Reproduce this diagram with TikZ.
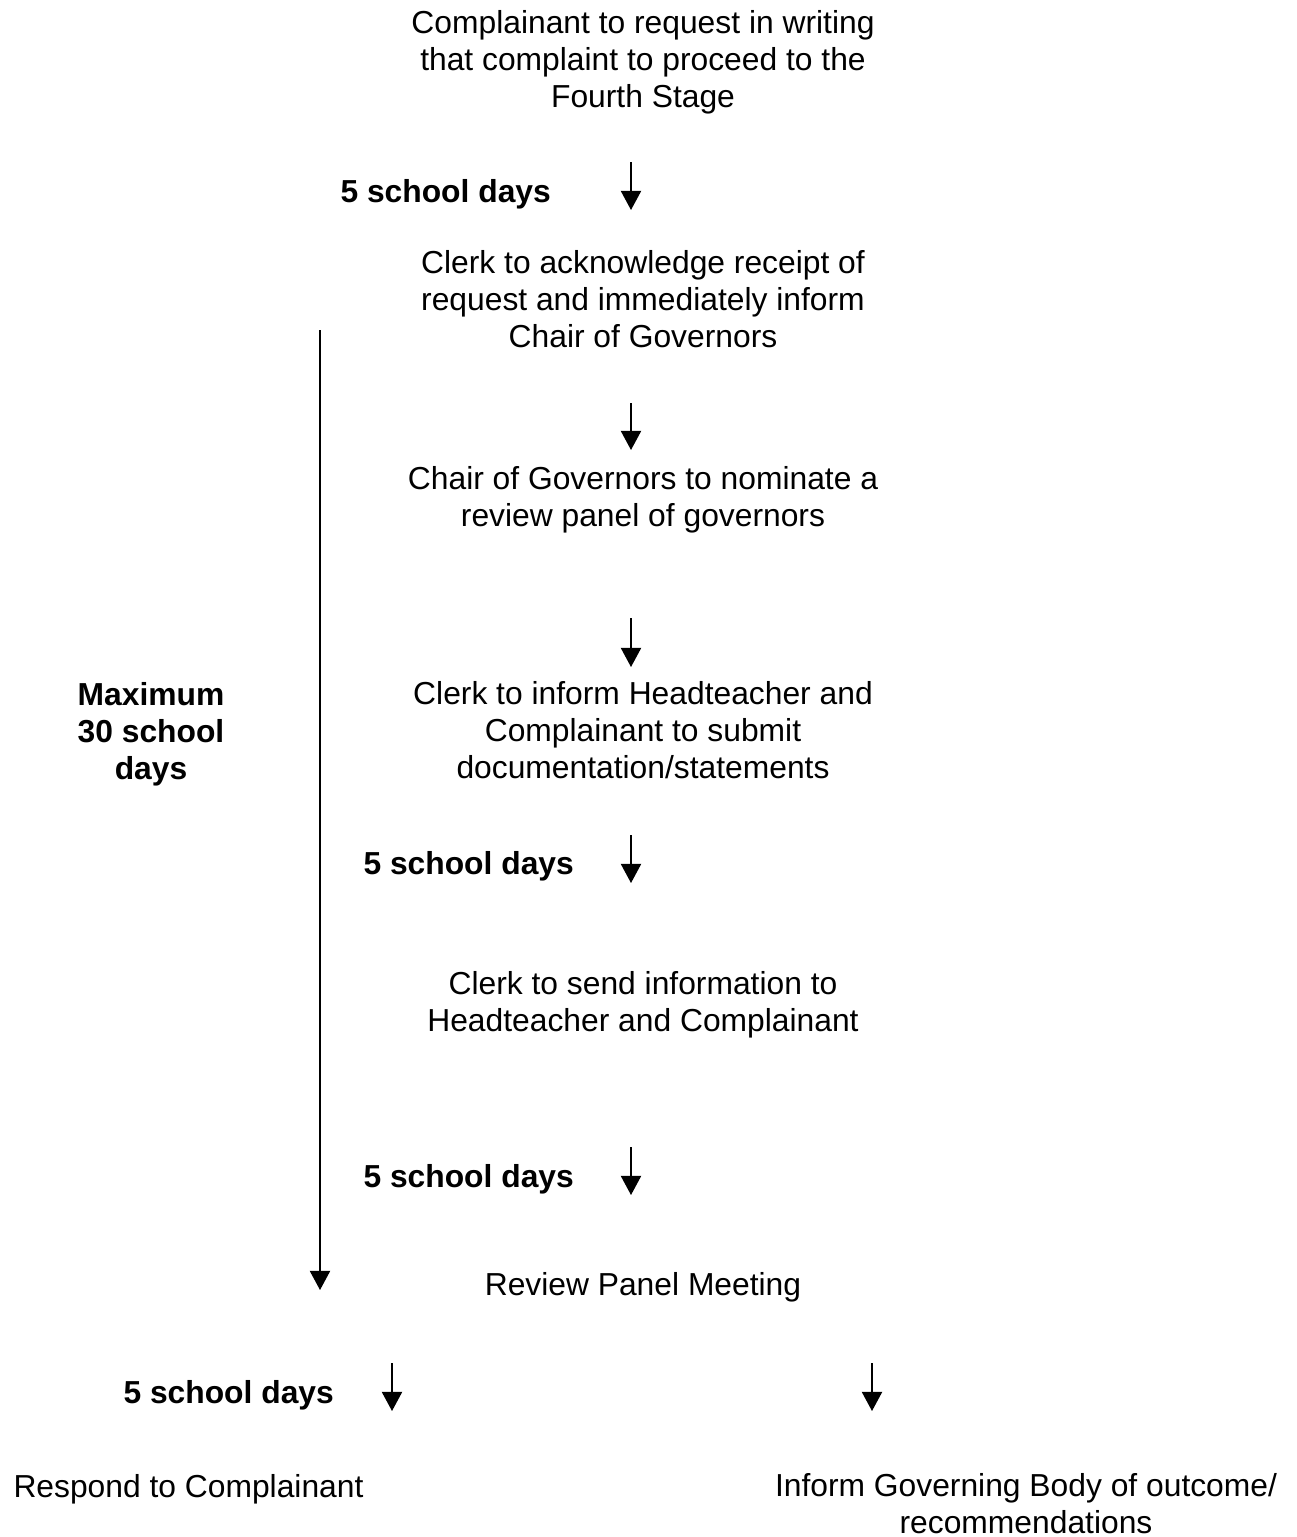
\documentclass[tikz,border=0pt]{standalone}
\usepackage{fontspec}
\setmainfont{Liberation Sans}
\usepackage{tikz}
\usetikzlibrary{arrows.meta,positioning}

\tikzset{
  stagetext/.style={align=center, inner sep=0pt, anchor=base,
    font=\fontsize{12}{13.8}\selectfont},
  daystext/.style={inner sep=0pt, anchor=base west,
    font=\fontsize{12}{13.8}\selectfont\bfseries},
  flowarrow/.style={line width=0.6pt, -{Triangle[width=7.6pt,length=7.2pt]}}
}

\begin{document}
\begin{tikzpicture}[x=0.3774pt, y=-0.3774pt]
    \useasboundingbox (0,0) rectangle (1296,1537);
    % stages (base = baseline of the last line)
    \node[stagetext] (request) at (643,107)
      {Complainant to request in writing\\that complaint to proceed to the\\Fourth Stage};
    \node[stagetext] (acknowledge) at (643,347)
      {Clerk to acknowledge receipt of\\request and immediately inform\\Chair of Governors};
    \node[stagetext] (nominate) at (643,526)
      {Chair of Governors to nominate a\\review panel of governors};
    \node[stagetext] (submit) at (643,778)
      {Clerk to inform Headteacher and\\Complainant to submit\\documentation/statements};
    \node[stagetext] (sendinfo) at (643,1031)
      {Clerk to send information to\\Headteacher and Complainant};
    \node[stagetext] (meeting) at (643,1295) {Review Panel Meeting};
    \node[stagetext, anchor=base west] (respond) at (13,1497) {Respond to Complainant};
    \node[stagetext] (inform) at (1026,1533)
      {Inform Governing Body of outcome/\\recommendations};
    % time limits
    \node[daystext] (days1) at (340,202) {5 school days};
    \node[daystext] (days2) at (363,874) {5 school days};
    \node[daystext] (days3) at (363,1187) {5 school days};
    \node[daystext] (days4) at (123,1403) {5 school days};
    \node[stagetext, font=\fontsize{12}{13.8}\selectfont\bfseries] (maximum) at (151,779)
      {Maximum\\30 school\\days};
    % arrows
    \coordinate (a1) at (631,162);  \coordinate (b1) at (631,210);
    \coordinate (a2) at (631,403);  \coordinate (b2) at (631,450);
    \coordinate (a3) at (631,618);  \coordinate (b3) at (631,667);
    \coordinate (a4) at (631,835);  \coordinate (b4) at (631,883);
    \coordinate (a5) at (631,1147); \coordinate (b5) at (631,1195);
    \coordinate (a6) at (392,1363); \coordinate (b6) at (392,1411);
    \coordinate (a7) at (872,1363); \coordinate (b7) at (872,1411);
    \coordinate (top) at (320,330); \coordinate (bottom) at (320,1290);
    \draw[flowarrow] (a1) -- (b1);
    \draw[flowarrow] (a2) -- (b2);
    \draw[flowarrow] (a3) -- (b3);
    \draw[flowarrow] (a4) -- (b4);
    \draw[flowarrow] (a5) -- (b5);
    \draw[flowarrow] (a6) -- (b6);
    \draw[flowarrow] (a7) -- (b7);
    \draw[flowarrow] (top) -- (bottom);
\end{tikzpicture}
\end{document}
